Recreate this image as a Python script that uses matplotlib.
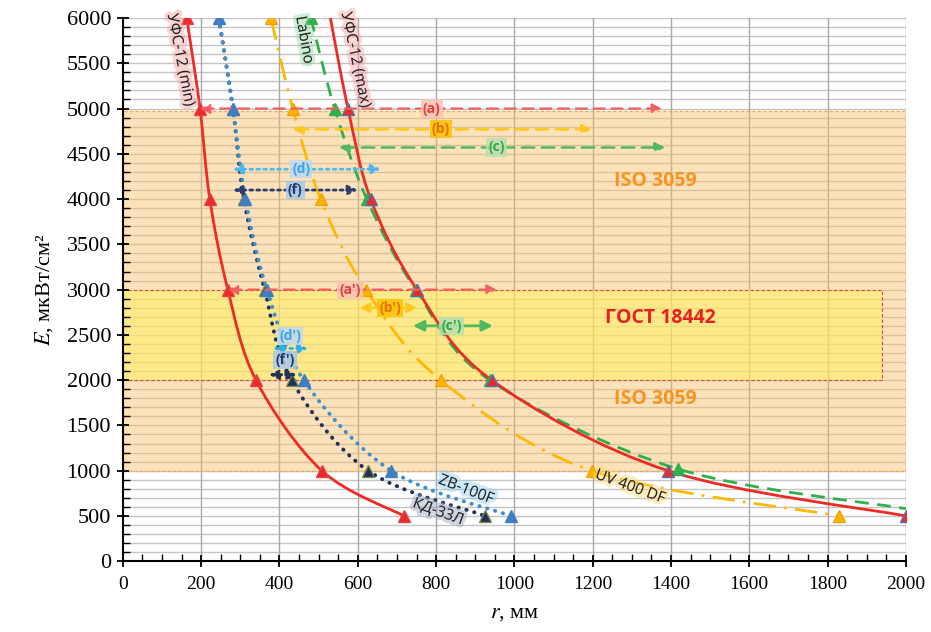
import numpy as np
import matplotlib
matplotlib.use("Agg")
import matplotlib.pyplot as plt
from matplotlib.path import Path
from matplotlib.patches import PathPatch, Rectangle
import matplotlib.patheffects as pe
from matplotlib.ticker import MultipleLocator

plt.rcParams['mathtext.fontset'] = 'stix'

# ---------------- data ----------------
E_levels = [6000, 5000, 4000, 3000, 2000, 1000, 500]
r_ufs_min = [163, 197, 222, 268, 340, 508, 718]
r_ufs_max = [530, 575, 633, 751, 942, 1392, 2000]
r_labino = [480, 541, 623, 748, 937, 1417, 2000]
E_labino = [6000, 5000, 4000, 3000, 2000, 1020, 580]
r_uv400 = [378, 434, 505, 621, 812, 1198, 1829]
r_zb100f = [245, 281, 313, 368, 462, 685, 991]
r_kd33l = [245, 281, 309, 362, 431, 626, 925]

iso_zone = (0, 2000, 1000, 4970)
gost_zone = (0, 1940, 2000, 3000)

# arrows: (label, y, x0, x1, label_x, label_y)
arrow_a = ("(a)", 5000, 197, 1377, 789, 5000)
arrow_b = ("(b)", 4770, 434, 1198, 812, 4770)
arrow_c = ("(c)", 4570, 552, 1385, 955, 4570)
arrow_d = ("(d)", 4330, 281, 659, 455, 4330)
arrow_f = ("(f)", 4100, 281, 600, 440, 4100)
arrow_a2 = ("(a')", 3000, 268, 955, 580, 3000)
arrow_b2 = ("(b')", 2800, 605, 751, 682, 2800)
arrow_c2 = ("(c')", 2600, 741, 945, 840, 2600)
arrow_d2 = ("(d')", 2350, 383, 473, 428, 2490)
arrow_f2 = ("(f')", 2060, 373, 444, 414, 2220)

x_ticks = list(range(0, 2001, 200))
y_ticks = list(range(0, 6001, 500))

# ---------------- figure ----------------
fig = plt.figure(figsize=(9.31, 6.32), dpi=100)
ax = fig.add_axes([0.132, 0.112, 0.841, 0.8595])
ax.set_xlim(0, 2000)
ax.set_ylim(0, 6000)

# grid
for yv in range(100, 6001, 100):
    ax.axhline(yv, color='#c4c4c4', lw=1.0, zorder=0.5)
for xv in range(200, 2001, 200):
    ax.axvline(xv, color='#a8a8a8', lw=1.0, zorder=0.5)

# zones
x0, x1, y0, y1 = iso_zone
ax.add_patch(Rectangle((x0, y0), x1 - x0, y1 - y0, facecolor='#f9c06a', alpha=0.45,
                       edgecolor='none', zorder=1))
ax.add_patch(Rectangle((x0, y0), x1 - x0, y1 - y0, facecolor='none',
                       edgecolor='#f5a94a', lw=1.0, linestyle=(0, (2, 2)), zorder=1.1))
x0, x1, y0, y1 = gost_zone
ax.add_patch(Rectangle((x0, y0), x1 - x0, y1 - y0, facecolor='#fff060', alpha=0.55,
                       edgecolor='none', zorder=1.2))
ax.add_patch(Rectangle((x0, y0), x1 - x0, y1 - y0, facecolor='none',
                       edgecolor='#e84040', lw=0.8, linestyle=(0, (3, 2)), zorder=1.3))


def smooth_path(xs, ys):
    P = np.column_stack([xs, ys]).astype(float)
    n = len(P)
    verts = [P[0]]
    codes = [Path.MOVETO]
    for i in range(n - 1):
        p0 = P[i - 1] if i > 0 else P[i]
        p1 = P[i]
        p2 = P[i + 1]
        p3 = P[i + 2] if i + 2 < n else P[i + 1]
        c1 = p1 + (p2 - p0) / 6.0
        c2 = p2 - (p3 - p1) / 6.0
        verts += [c1, c2, p2]
        codes += [Path.CURVE4] * 3
    return Path(verts, codes)


def curve(xs, ys, color, lw, ls, z=3, capstyle='butt'):
    patch = PathPatch(smooth_path(xs, ys), facecolor='none', edgecolor=color, lw=lw,
                      linestyle=ls, zorder=z, capstyle=capstyle)
    ax.add_patch(patch)


red = '#ee2a24'
green = '#2fb04a'
yellow = '#ffb900'
blue = '#3d8fcf'
navy = '#1f2f5e'

curve(r_kd33l, E_levels, navy, 2.8, (0, (0.1, 2.0)), capstyle='round')
curve(r_zb100f, E_levels, blue, 2.8, (0, (0.1, 2.0)), capstyle='round')
curve(r_uv400, E_levels, yellow, 2.0, (0, (8, 3, 1, 3)))
curve(r_labino, E_labino, green, 2.0, (0, (5, 3)))
curve(r_ufs_min, E_levels, red, 2.0, '-')
curve(r_ufs_max, E_levels, red, 2.0, '-')

ms = 9
ax.plot(r_kd33l[1:], E_levels[1:], '^', color=navy, mec='#7a8a40', ms=ms, zorder=4)
ax.plot(r_zb100f, E_levels, '^', color='#3f7ec0', mec='#3f7ec0', ms=ms, zorder=4)
ax.plot(r_uv400, E_levels, '^', color='#f7b500', mec='#f7a000', ms=ms, zorder=4)
ax.plot(r_labino[:-1], E_labino[:-1], '^', color=green, mec=green, ms=ms, zorder=4)
ax.plot(r_ufs_min, E_levels, '^', color=red, mec='#e0404a', ms=ms, zorder=4.1)
ax.plot(r_ufs_max[1:], E_levels[1:], '^', color=red, mec='#5070b0', ms=ms, zorder=4.1)

# arrows
lab_font = ['Open Sans', 'DejaVu Sans']


def arrow(spec, color, ls, lw, txtcolor, boxcolor, ms=14):
    label, y, xa, xb, lx, ly = spec
    ax.annotate('', xy=(xb, y), xytext=(xa, y),
                arrowprops=dict(arrowstyle='<|-|>', color=color, lw=lw, linestyle=ls,
                                mutation_scale=ms, shrinkA=0, shrinkB=0),
                zorder=5)
    ax.text(lx, ly, label, ha='center', va='center', fontsize=10, fontweight='bold',
            color=txtcolor, family=lab_font, zorder=6,
            bbox=dict(boxstyle='square,pad=0.15', facecolor=boxcolor, edgecolor='none',
                      alpha=0.85))


arrow(arrow_a, '#f06060', (0, (5, 3)), 1.6, '#e83838', '#f7c4b4')
arrow(arrow_b, '#ffc820', (0, (5, 3)), 1.8, '#e07000', '#ffc000')
arrow(arrow_c, '#50b860', (0, (5, 3)), 1.8, '#2ea84a', '#b8e0b0')
arrow(arrow_d, '#4fb8ee', (0, (1, 1.5)), 2.0, '#35a6e8', '#c0d8f0')
arrow(arrow_f, '#2c3e70', (0, (1, 1.5)), 2.0, '#1f3a70', '#a8c8e8')
arrow(arrow_a2, '#f06060', (0, (5, 3)), 1.6, '#e83838', '#f7c4b4')
arrow(arrow_b2, '#ffc820', '-', 1.8, '#e07000', '#ffc000')
arrow(arrow_c2, '#50b860', '-', 2.0, '#2ea84a', '#b8e0b0', ms=16)
arrow(arrow_d2, '#30b0f0', (0, (1, 1.5)), 2.0, '#35a6e8', '#c0d8f0')
arrow(arrow_f2, '#1f2f5e', (0, (1, 1.5)), 2.0, '#1f3a70', '#a8c8e8')

# zone labels
ax.text(1359, 4199, 'ISO 3059', color='#f7941d', fontsize=14, fontweight='bold',
        ha='center', va='center', family=lab_font, zorder=6)
ax.text(1359, 1790, 'ISO 3059', color='#f7941d', fontsize=14, fontweight='bold',
        ha='center', va='center', family=lab_font, zorder=6)
ax.text(1374, 2685, 'ГОСТ 18442', color='#e82020', fontsize=14, fontweight='bold',
        ha='center', va='center', family=lab_font, zorder=6)


def glow_text(x, y, s, rot, glow):
    ax.text(x, y, s, rotation=rot, rotation_mode='anchor', ha='center', va='center',
            fontsize=11, color='#222222', family=lab_font, zorder=6,
            path_effects=[pe.withStroke(linewidth=5, foreground=glow, alpha=0.45)])


glow_text(146, 5536, 'УФС-12 (min)', -79, '#f7a0a0')
glow_text(462, 5757, 'Labino', -80, '#90d8a0')
glow_text(593, 5536, 'УФС-12 (max)', -78, '#f7a0a0')
glow_text(876, 785, 'ZB-100F', -21, '#90d0f5')
glow_text(805, 541, 'КД-33Л', -20, '#98a4c0')
glow_text(1295, 818, 'UV 400 DF', -20, '#ffd870')

# axes styling
for s in ['top', 'right']:
    ax.spines[s].set_visible(False)
for s in ['left', 'bottom']:
    ax.spines[s].set_linewidth(1.5)
    ax.spines[s].set_zorder(7)

ax.set_xticks(x_ticks)
ax.set_yticks(y_ticks)
ax.xaxis.set_minor_locator(MultipleLocator(50))
ax.yaxis.set_minor_locator(MultipleLocator(100))
ax.tick_params(which='major', direction='inout', length=9, width=1.3, colors='black')
ax.tick_params(which='minor', direction='in', length=5, width=1.0, colors='black')
for lab in ax.get_xticklabels():
    lab.set_fontfamily('Liberation Serif')
    lab.set_fontsize(14)
for lab in ax.get_yticklabels():
    lab.set_fontfamily('Liberation Serif')
    lab.set_fontsize(16)
ax.tick_params(axis='x', pad=6)
ax.tick_params(axis='y', pad=4)

ax.set_xlabel('$r$, мм', fontsize=16, family='Liberation Serif', labelpad=8)
ax.set_ylabel('$E$, мкВт/см²', fontsize=16, family='Liberation Serif', labelpad=8)

fig.savefig('out.png', dpi=100)
